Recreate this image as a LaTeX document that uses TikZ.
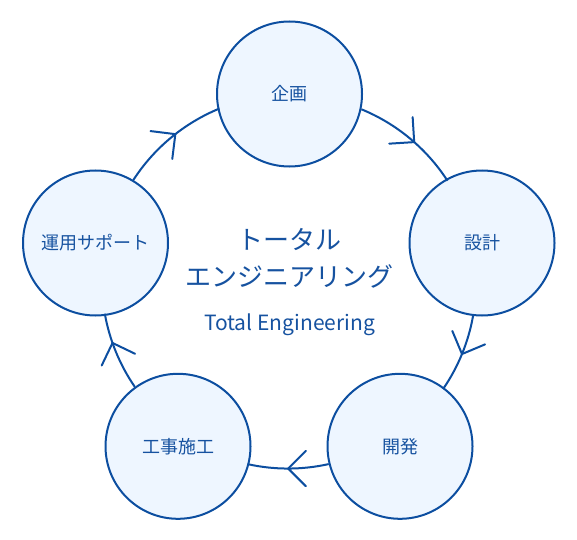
\documentclass[tikz,border=0pt]{standalone}
\usepackage{fontspec}
\setmainfont{Noto Sans CJK JP}
\usetikzlibrary{decorations.markings}
\definecolor{cblue}{RGB}{12,78,160}
\definecolor{ctext}{RGB}{22,82,160}
\definecolor{cfill}{RGB}{238,246,255}
\tikzset{
  stage/.style={circle, draw=cblue, fill=cfill, line width=2pt, minimum size=145pt, inner sep=0pt,
    text=ctext, font=\fontsize{18}{22}\selectfont},
  flow/.style={draw=cblue, line width=2pt, postaction={decorate},
    decoration={markings, mark=at position #1 with {\draw[cblue, line width=2pt, line cap=round, line join=miter] (-17.7pt,17.7pt) -- (0pt,0pt) -- (-17.7pt,-17.7pt);}}},
  title/.style={text=ctext, font=\fontsize{26}{30}\selectfont, inner sep=0pt},
  subtitle/.style={text=ctext, font=\fontsize{21}{25}\selectfont, inner sep=0pt},
}
\begin{document}
\begin{tikzpicture}[x=1pt, y=1pt]
\useasboundingbox (0,0) rectangle (577,539);
\coordinate (C) at (289,257);
\node[stage] (top) at (289.5,445) {企画};
\node[stage] (right) at (482,296) {設計};
\node[stage] (br) at (400,92.7) {開発};
\node[stage] (bl) at (178,92.7) {工事施工};
\node[stage] (left) at (95.5,296) {運用サポート};
\draw[flow=0.55] (top.-12) arc[start angle=67.7, end angle=32.9, radius=187pt];
\draw[flow=0.5] (right.-97) arc[start angle=-10.1, end angle=-34.45, radius=187pt];
\draw[flow=0.5] (br.194.5) arc[start angle=-77.45, end angle=-102.5, radius=187pt];
\draw[flow=0.62] (bl.126.5) arc[start angle=-145.5, end angle=-169.9, radius=187pt];
\draw[flow=0.55] (left.59.7) arc[start angle=147.1, end angle=112.3, radius=187pt];
\node[title] (t1) at (289.5,300) {トータル};
\node[title] (t2) at (289.5,263) {エンジニアリング};
\node[subtitle] (t3) at (289.5,214) {Total Engineering};
\end{tikzpicture}
\end{document}
